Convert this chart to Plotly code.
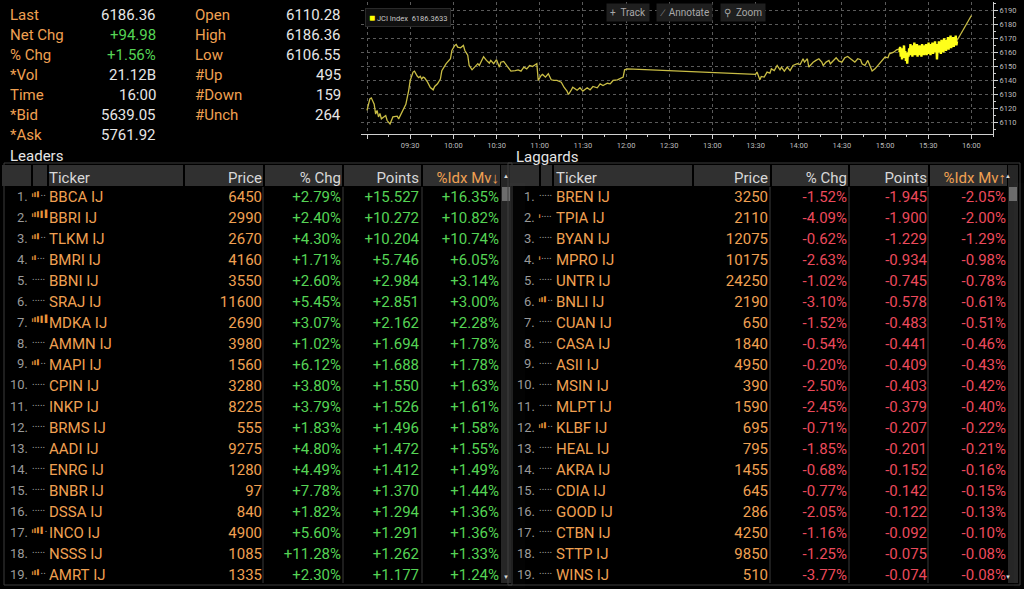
import pandas as pd
import plotly.graph_objects as go

W, H = 1024, 589
DAY = "2024-05-15 "

ORANGE = "#f0a052"
GREEN = "#55d455"
RED = "#ec4a5c"
WHITE = "#e6e6e6"
GRAY = "#9a9a9a"
FONT = "Roboto"

# ---- quote panel
stat_left_labels = ["Last", "Net Chg", "% Chg", "*Vol", "Time", "*Bid", "*Ask"]
stat_left_values = ["6186.36", "+94.98", "+1.56%", "21.12B", "16:00", "5639.05", "5761.92"]
stat_right_labels = ["Open", "High", "Low", "#Up", "#Down", "#Unch"]
stat_right_values = ["6110.28", "6186.36", "6106.55", "495", "159", "264"]

# ---- intraday JCI line
main_times = ["09:00", "09:02", "09:03", "09:05", "09:06", "09:07", "09:08", "09:09", "09:10", "09:13",
              "09:14", "09:16", "09:18", "09:21", "09:22", "09:24", "09:27", "09:29", "09:30", "09:32",
              "09:33", "09:35", "09:36", "09:37", "09:38", "09:39", "09:40", "09:42", "09:44", "09:46",
              "09:47", "09:49", "09:51", "09:52", "09:54", "09:55", "09:58", "09:59", "10:01", "10:02",
              "10:03", "10:05", "10:07", "10:08", "10:10", "10:11", "10:13", "10:15", "10:17", "10:18",
              "10:20", "10:21", "10:23", "10:25", "10:26", "10:28", "10:30", "10:32", "10:33", "10:35",
              "10:37", "10:38", "10:40", "10:43", "10:45", "10:47", "10:49", "10:51", "10:53", "10:55",
              "10:58", "10:59", "11:01", "11:02", "11:04", "11:06", "11:08", "11:10", "11:12", "11:15",
              "11:17", "11:19", "11:20", "11:22", "11:23", "11:26", "11:28", "11:30", "11:33", "11:35",
              "11:37", "11:40", "11:42", "11:44", "11:47", "11:49", "11:51", "11:54", "11:56", "11:58",
              "11:59", "12:01", "13:30", "13:31", "13:33", "13:34", "13:36", "13:38", "13:40", "13:41",
              "13:43", "13:45", "13:47", "13:48", "13:50", "13:52", "13:54", "13:56", "13:59", "14:01",
              "14:03", "14:04", "14:06", "14:07", "14:08", "14:10", "14:12", "14:14", "14:16", "14:17",
              "14:19", "14:21", "14:22", "14:24", "14:26", "14:28", "14:30", "14:32", "14:34", "14:36",
              "14:38", "14:39", "14:41", "14:43", "14:44", "14:46", "14:48", "14:50", "14:51", "14:53",
              "14:55", "14:56", "14:58", "15:00", "15:02", "15:03", "15:06", "15:08", "15:10"]
main_vals = [6118.6, 6126.9, 6127.6, 6123.1, 6116.0, 6118.6, 6114.0, 6116.4, 6112.6, 6115.0,
             6111.4, 6109.0, 6114.0, 6114.5, 6112.6, 6117.0, 6123.0, 6133.0, 6140.0, 6146.0,
             6146.7, 6143.0, 6142.0, 6143.0, 6141.0, 6142.4, 6141.9, 6139.0, 6135.0, 6133.3,
             6135.7, 6137.6, 6141.0, 6147.0, 6150.7, 6152.0, 6155.5, 6161.4, 6165.0, 6165.7,
             6163.8, 6163.3, 6165.0, 6161.4, 6158.0, 6150.7, 6147.6, 6149.5, 6152.0, 6150.7,
             6154.8, 6157.0, 6154.3, 6152.4, 6154.3, 6152.0, 6154.8, 6149.5, 6153.0, 6153.6,
             6150.7, 6149.5, 6146.7, 6147.1, 6147.6, 6146.7, 6149.5, 6148.3, 6150.7, 6150.0,
             6152.0, 6140.0, 6143.6, 6144.3, 6142.4, 6144.8, 6140.5, 6140.0, 6140.0, 6138.8,
             6135.0, 6132.4, 6130.0, 6133.3, 6135.2, 6133.0, 6134.8, 6132.4, 6134.8, 6133.3,
             6135.7, 6134.8, 6137.6, 6136.4, 6138.0, 6137.6, 6140.0, 6140.5, 6141.2, 6142.4,
             6147.6, 6148.3, 6144.3, 6146.0, 6140.5, 6142.9, 6142.4, 6146.0, 6145.2, 6148.3,
             6147.1, 6150.7, 6147.6, 6149.5, 6146.7, 6149.5, 6147.0, 6150.7, 6152.0, 6151.4,
             6155.5, 6153.1, 6155.5, 6149.5, 6150.7, 6153.0, 6154.3, 6155.5, 6153.1, 6150.7,
             6153.1, 6154.3, 6151.9, 6154.3, 6156.2, 6153.8, 6153.1, 6156.2, 6157.1, 6155.5,
             6154.3, 6153.1, 6155.5, 6154.8, 6151.9, 6150.7, 6154.3, 6149.5, 6146.7, 6148.3,
             6150.7, 6151.9, 6154.3, 6156.7, 6156.2, 6159.0, 6160.2, 6161.9, 6162.6]

# closing-auction ticks, 15:10 -> 15:50
auction_start, auction_end = "15:10", "15:50"
auction_vals = [6160, 6164, 6157, 6163, 6155, 6162, 6158, 6165, 6156, 6161,
                6154, 6159, 6152, 6160, 6157, 6163, 6158, 6166, 6159, 6164,
                6157, 6165, 6160, 6167, 6158, 6163, 6159, 6166, 6157, 6164,
                6160, 6165, 6158, 6163, 6157, 6166, 6159, 6164, 6158, 6165,
                6160, 6166, 6158, 6164, 6159, 6167, 6160, 6165, 6158, 6166,
                6161, 6167, 6159, 6165, 6160, 6168, 6161, 6166, 6155, 6164,
                6160, 6168, 6162, 6167, 6159, 6169, 6162, 6166, 6160, 6170,
                6163, 6168, 6161, 6169, 6163, 6171, 6162, 6168, 6164, 6172,
                6163, 6169, 6165, 6171, 6164, 6170, 6166, 6172, 6165, 6168]

close_times = ["15:50", "16:00"]
close_vals = [6168.5, 6186.36]

x_ticks = ["09:00", "09:30", "10:00", "10:30", "11:00", "11:30", "12:00", "12:30",
           "13:00", "13:30", "14:00", "14:30", "15:00", "15:30", "16:00"]

# ---- leaders / laggards
lead_ticker = ["BBCA", "BBRI", "TLKM", "BMRI", "BBNI", "SRAJ", "MDKA", "AMMN", "MAPI", "CPIN",
               "INKP", "BRMS", "AADI", "ENRG", "BNBR", "DSSA", "INCO", "NSSS", "AMRT"]
lead_price = [6450, 2990, 2670, 4160, 3550, 11600, 2690, 3980, 1560, 3280,
              8225, 555, 9275, 1280, 97, 840, 4900, 1085, 1335]
lead_pct = [2.79, 2.40, 4.30, 1.71, 2.60, 5.45, 3.07, 1.02, 6.12, 3.80,
            3.79, 1.83, 4.80, 4.49, 7.78, 1.82, 5.60, 11.28, 2.30]
lead_points = [15.527, 10.272, 10.204, 5.746, 2.984, 2.851, 2.162, 1.694, 1.688, 1.550,
               1.526, 1.496, 1.472, 1.412, 1.370, 1.294, 1.291, 1.262, 1.177]
lead_idx = [16.35, 10.82, 10.74, 6.05, 3.14, 3.00, 2.28, 1.78, 1.78, 1.63,
            1.61, 1.58, 1.55, 1.49, 1.44, 1.36, 1.36, 1.33, 1.24]
lead_signal = [3, 5, 3, 2, 0, 0, 5, 0, 3, 0, 0, 0, 0, 0, 0, 0, 4, 0, 3]

lag_ticker = ["BREN", "TPIA", "BYAN", "MPRO", "UNTR", "BNLI", "CUAN", "CASA", "ASII", "MSIN",
              "MLPT", "KLBF", "HEAL", "AKRA", "CDIA", "GOOD", "CTBN", "STTP", "WINS"]
lag_price = [3250, 2110, 12075, 10175, 24250, 2190, 650, 1840, 4950, 390,
             1590, 695, 795, 1455, 645, 286, 4250, 9850, 510]
lag_pct = [-1.52, -4.09, -0.62, -2.63, -1.02, -3.10, -1.52, -0.54, -0.20, -2.50,
           -2.45, -0.71, -1.85, -0.68, -0.77, -2.05, -1.16, -1.25, -3.77]
lag_points = [-1.945, -1.900, -1.229, -0.934, -0.745, -0.578, -0.483, -0.441, -0.409, -0.403,
              -0.379, -0.207, -0.201, -0.152, -0.142, -0.122, -0.092, -0.075, -0.074]
lag_idx = [-2.05, -2.00, -1.29, -0.98, -0.78, -0.61, -0.51, -0.46, -0.43, -0.42,
           -0.40, -0.22, -0.21, -0.16, -0.15, -0.13, -0.10, -0.08, -0.08]
lag_signal = [0, 1, 0, 1, 0, 3, 0, 0, 0, 0, 0, 3, 0, 0, 0, 0, 0, 0, 0]

HEAD_TOP, HEAD_H, ROW_H = 164, 19, 21
TEXT_DY = 2.5  # table text sits a little below the row middle


def px(x):
    return x / W


def py(y):
    return 1 - y / H


def signal_icon(level):
    out = ""
    for i, sz in enumerate([3, 4, 5, 6, 7]):
        if i < level:
            out += '<span style="font-size:%dpx;color:#e8943a">▌</span>' % sz
        else:
            out += '<span style="font-size:10px;color:#a0a0a0">.</span>'
    return out


def make_table(tickers, price, pct, points, idx, color, arrow, x0, x1, widths):
    n = len(tickers)
    return go.Table(
        domain=dict(x=[px(x0), px(x1)], y=[py(588), py(HEAD_TOP)]),
        columnwidth=widths,
        header=dict(
            values=["Ticker", "Price", "%\u00a0Chg", "Points", "%Idx\u00a0Mv" + arrow],
            align=["left", "right", "right", "right", "right"],
            fill_color="rgba(0,0,0,0)", line=dict(width=0),
            font=dict(family=FONT, size=15, color=["#d8d8d8"] * 4 + [ORANGE]),
            height=HEAD_H),
        cells=dict(
            values=[[t + "\u00a0IJ" for t in tickers],
                    [str(p) for p in price],
                    ["%+.2f%%" % v for v in pct],
                    ["%+.3f" % v for v in points],
                    ["%+.2f%%" % v for v in idx]],
            align=["left", "right", "right", "right", "right"],
            fill_color="rgba(0,0,0,0)", line=dict(width=0),
            font=dict(family=FONT, size=15, color=[[ORANGE] * n, [ORANGE] * n, [color] * n, [color] * n, [color] * n]),
            height=ROW_H))


fig = go.Figure()

main_x = pd.to_datetime([DAY + t for t in main_times])
auction_x = pd.date_range(DAY + auction_start, DAY + auction_end, periods=len(auction_vals))
close_x = pd.to_datetime([DAY + t for t in close_times])

fig.add_trace(go.Scatter(x=main_x, y=main_vals, mode="lines", line=dict(color="#c9bd45", width=1.3), hoverinfo="skip"))
fig.add_trace(go.Scatter(x=auction_x, y=auction_vals, mode="lines", line=dict(color="#ffff1a", width=2.4), hoverinfo="skip"))
fig.add_trace(go.Scatter(x=close_x, y=close_vals, mode="lines", line=dict(color="#c9bd45", width=1.3), hoverinfo="skip"))

fig.add_trace(make_table(lead_ticker, lead_price, lead_pct, lead_points, lead_idx,
                         GREEN, "↓", 41, 507, [149, 80, 79, 78, 80]))
fig.add_trace(make_table(lag_ticker, lag_price, lag_pct, lag_points, lag_idx,
                         RED, "↑", 548, 1014, [148, 80, 79, 80, 79]))

tick_x = pd.to_datetime([DAY + t for t in x_ticks])
fig.update_xaxes(
    domain=[px(361), px(993)], type="date",
    range=[DAY + "08:55:50", DAY + "16:15"],
    tickvals=tick_x, ticktext=[""] + x_ticks[1:],
    showgrid=True, gridcolor="#5a5a5a", griddash="dot", gridwidth=1,
    showline=True, linecolor="#cfcfcf", linewidth=1,
    ticks="outside", ticklen=4, tickcolor="#cfcfcf",
    minor=dict(dtick=15 * 60 * 1000, tick0=DAY + "09:00", ticks="outside", ticklen=2, tickcolor="#cfcfcf", showgrid=False),
    tickfont=dict(family=FONT, size=7.5, color="#bdbdbd"),
    zeroline=False, fixedrange=True)
fig.update_yaxes(
    domain=[py(134), py(2)], range=[6101.8, 6196], side="right",
    dtick=10, tick0=6110,
    showgrid=True, gridcolor="#5a5a5a", griddash="dot", gridwidth=1,
    showline=True, linecolor="#cfcfcf", linewidth=1,
    ticks="outside", ticklen=4, tickcolor="#cfcfcf",
    minor=dict(dtick=5, ticks="outside", ticklen=2, tickcolor="#cfcfcf", showgrid=False),
    tickfont=dict(family=FONT, size=7.5, color="#bdbdbd"),
    zeroline=False, fixedrange=True)

ann = []
# quote panel
for i, (lab, val) in enumerate(zip(stat_left_labels, stat_left_values)):
    yy = 15 + 20 * i
    ann.append(dict(x=px(8), y=py(yy), text=lab, xanchor="left", font=dict(color=ORANGE)))
    ann.append(dict(x=px(158), y=py(yy), text=val, xanchor="right",
                    font=dict(color=GREEN if val.startswith("+") else WHITE)))
for i, (lab, val) in enumerate(zip(stat_right_labels, stat_right_values)):
    yy = 15 + 20 * i
    ann.append(dict(x=px(193), y=py(yy), text=lab, xanchor="left", font=dict(color=ORANGE)))
    ann.append(dict(x=px(343), y=py(yy), text=val, xanchor="right", font=dict(color=WHITE)))
ann.append(dict(x=px(8), y=py(156), text="Leaders", xanchor="left", font=dict(color=WHITE)))
ann.append(dict(x=px(514), y=py(157), text="Laggards", xanchor="left", font=dict(color=WHITE)))

# row numbers and liquidity icons next to the tickers
for signals, num_x in [(lead_signal, 30), (lag_signal, 537)]:
    for i, s in enumerate(signals):
        yy = HEAD_TOP + HEAD_H + ROW_H * i + ROW_H / 2 + TEXT_DY
        ann.append(dict(x=px(num_x), y=py(yy), text="%d." % (i + 1), xanchor="right",
                        font=dict(size=13, color=GRAY)))
        ann.append(dict(x=px(num_x + 1), y=py(yy + 3), text=signal_icon(s), xanchor="left", yanchor="bottom",
                        font=dict(size=7, color=GRAY), borderpad=0))

# chart legend and toolbar
ann.append(dict(x=px(365), y=py(17), xanchor="left",
                text='<span style="color:#ffff00;font-size:10px">■</span> JCI Index  6186.3633',
                font=dict(size=7.5, color="#c8c8c8"), bgcolor="#101010", bordercolor="#2a2a2a", borderpad=3))
for label, xl in [("+  Track", 606), ("∕  Annotate", 656), ("⚲  Zoom", 720)]:
    ann.append(dict(x=px(xl), y=py(13), text=label, xanchor="left", font=dict(size=10, color="#a8a8a8"),
                    bgcolor="#1f1f1f", borderpad=3))

shapes = []
# table decoration
for boxes, seps, frame, sb in [
    ([(2, 31), (33, 47), (49, 183), (185, 263), (265, 342), (344, 421), (423, 500)], [263, 343, 422], (4, 512), (501, 511)),
    ([(510, 539), (541, 552), (554, 692), (694, 770), (772, 848), (850, 928), (930, 1007)], [770, 849, 928], (508, 1020), (1008, 1018)),
]:
    shapes.append(dict(type="rect", xref="paper", yref="paper", x0=px(frame[0]), x1=px(frame[1]),
                       y0=py(585), y1=py(163), line=dict(color="#3c3c3c", width=1), layer="below"))
    for a, b in boxes:
        shapes.append(dict(type="rect", xref="paper", yref="paper", x0=px(a), x1=px(b), y0=py(186), y1=py(165),
                           fillcolor="#303030", line=dict(width=0), layer="below"))
    for s in seps:
        shapes.append(dict(type="line", xref="paper", yref="paper", x0=px(s), x1=px(s), y0=py(583), y1=py(187),
                           line=dict(color="#3a3a3a", width=1), layer="below"))
    shapes.append(dict(type="rect", xref="paper", yref="paper", x0=px(sb[0]), x1=px(sb[1]), y0=py(583), y1=py(165),
                       fillcolor="#262626", line=dict(width=0), layer="below"))
    shapes.append(dict(type="rect", xref="paper", yref="paper", x0=px(sb[0] + 1), x1=px(sb[1] - 1), y0=py(201), y1=py(187),
                       fillcolor="#6c6c6c", line=dict(width=0), layer="below"))
    ann.append(dict(x=px((sb[0] + sb[1]) / 2), y=py(175), text="▲", font=dict(size=6, color="#dddddd")))
    ann.append(dict(x=px((sb[0] + sb[1]) / 2), y=py(576), text="▼", font=dict(size=6, color="#dddddd")))

for a in ann:
    a.setdefault("xref", "paper")
    a.setdefault("yref", "paper")
    a.setdefault("showarrow", False)
    a.setdefault("yanchor", "middle")
    f = dict(family=FONT, size=15)
    f.update(a["font"])
    a["font"] = f

fig.update_layout(
    width=W, height=H, margin=dict(l=0, r=0, t=0, b=0),
    paper_bgcolor="black", plot_bgcolor="black",
    showlegend=False, annotations=ann, shapes=shapes,
    font=dict(family=FONT, color=WHITE))

fig.write_html("out.html", config=dict(displayModeBar=False),
               post_script="document.body.style.margin='0';document.body.style.overflow='hidden';"
                           "document.body.style.background='black';")
